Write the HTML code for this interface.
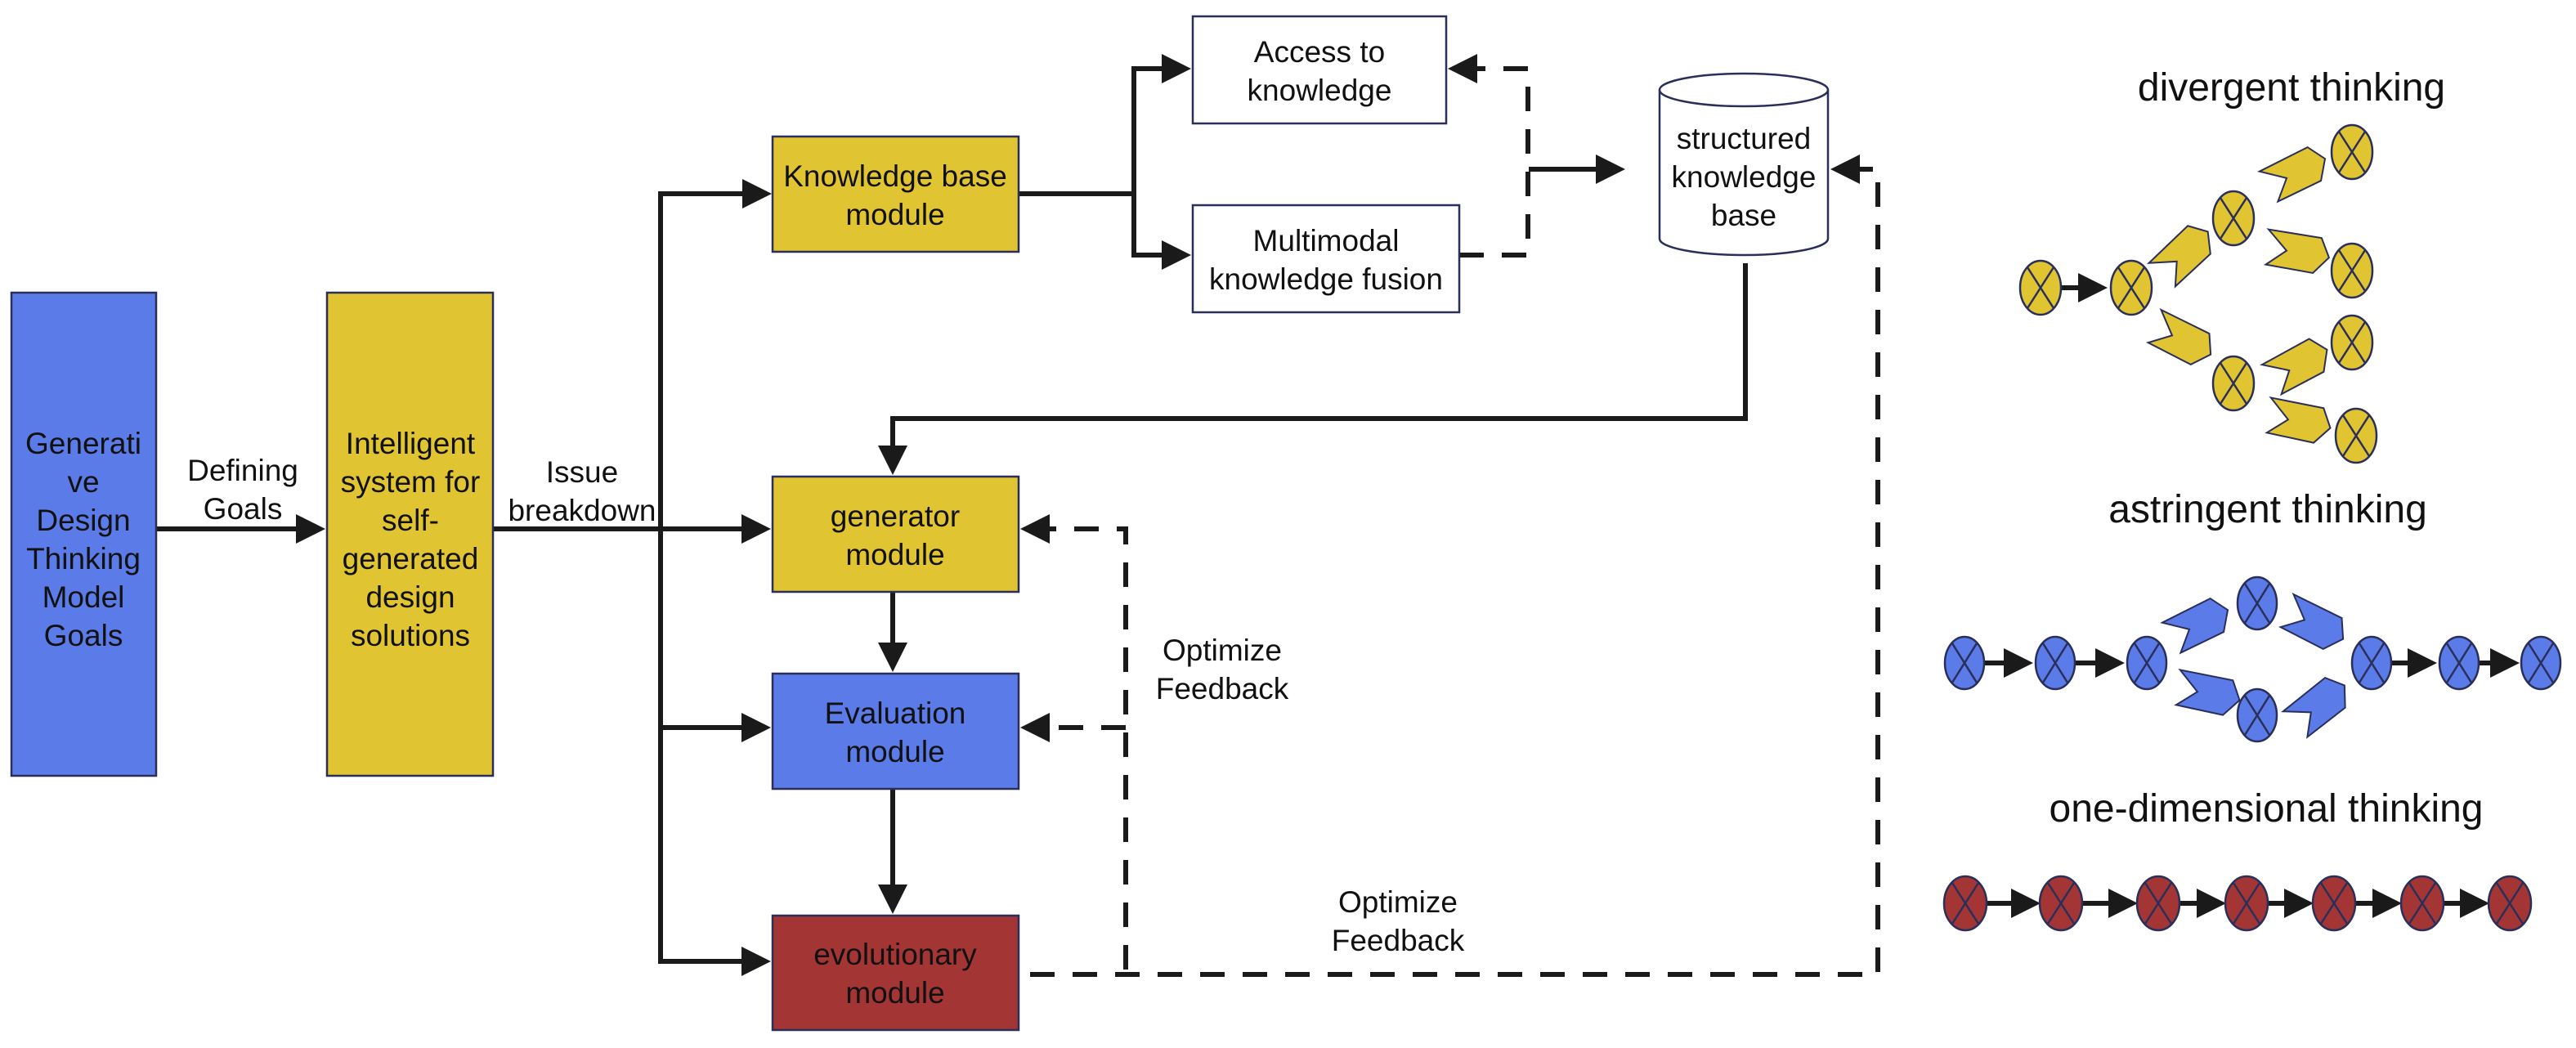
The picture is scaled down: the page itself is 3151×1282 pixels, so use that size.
<!DOCTYPE html>
<html><head><meta charset="utf-8"><style>
html,body{margin:0;padding:0;background:#fff;}
svg{display:block;}
text{font-family:"Liberation Sans",sans-serif;fill:#111;}
</style></head><body>
<svg width="3151" height="1282" viewBox="0 0 3151 1282" xmlns="http://www.w3.org/2000/svg">
<defs>
<marker id="a" markerWidth="6" markerHeight="6" refX="5" refY="3" orient="auto" markerUnits="strokeWidth"><path d="M0,0 L6,3 L0,6 z" fill="#1a1a1a"/></marker>
<g id="chy"><polygon points="-39,-13 26,-23 42,-3 29,21 -29,29 -10,5" fill="#e0c431" stroke="#2a2f5a" stroke-width="2"/></g>
<g id="chb"><polygon points="-39,-13 26,-23 42,-3 29,21 -29,29 -10,5" fill="#5b7be8" stroke="#2a2f5a" stroke-width="2"/></g>
</defs>
<g stroke="#1a1a1a" stroke-width="6" fill="none">
<line x1="191" y1="647" x2="392" y2="647" marker-end="url(#a)"/>
<line x1="603" y1="647" x2="937" y2="647" marker-end="url(#a)"/>
<polyline points="937,237 808,237 808,1176 937,1176" marker-end="url(#a)"/>
<line x1="808" y1="890" x2="937" y2="890" marker-end="url(#a)"/>
<line x1="937" y1="237" x2="938" y2="237" marker-end="url(#a)"/>
<polyline points="1246,237 1387,237 1387,84 1451,84" marker-end="url(#a)"/>
<polyline points="1387,237 1387,312 1451,312" marker-end="url(#a)"/>
<line x1="1870" y1="207" x2="1982" y2="207" marker-end="url(#a)"/>
<polyline points="2135,322 2135,512 1092,512 1092,575" marker-end="url(#a)"/>
<line x1="1092" y1="724" x2="1092" y2="816" marker-end="url(#a)"/>
<line x1="1092" y1="965" x2="1092" y2="1112" marker-end="url(#a)"/>
</g>
<g stroke="#1a1a1a" stroke-width="6" fill="none" stroke-dasharray="30,22">
<polyline points="1785,312 1869,312 1869,84 1777,84" marker-end="url(#a)"/>
<polyline points="1377,1186 1377,647 1254,647" marker-end="url(#a)"/>
<line x1="1377" y1="890" x2="1254" y2="890" marker-end="url(#a)"/>
<polyline points="1260,1192 2297,1192 2297,207 2245,207" marker-end="url(#a)"/>
</g>
<g stroke="#2a2f5a" stroke-width="2.5">
<rect x="14" y="358" width="177" height="591" fill="#5b7be8"/>
<rect x="400" y="358" width="203" height="591" fill="#e0c431"/>
<rect x="945" y="167" width="301" height="141" fill="#e0c431"/>
<rect x="945" y="583" width="301" height="141" fill="#e0c431"/>
<rect x="945" y="824" width="301" height="141" fill="#5b7be8"/>
<rect x="945" y="1120" width="301" height="140" fill="#a33535"/>
<rect x="1459" y="20" width="310" height="131" fill="#fff"/>
<rect x="1459" y="251" width="326" height="131" fill="#fff"/>
<path d="M2030,110 L2030,292 A103,20 0 0 0 2236,292 L2236,110" fill="#fff"/>
<ellipse cx="2133" cy="110" rx="103" ry="20" fill="#fff"/>
</g>
<g font-size="37" text-anchor="middle">
<text x="102" y="555">Generati</text><text x="102" y="602">ve</text><text x="102" y="649">Design</text><text x="102" y="696">Thinking</text><text x="102" y="743">Model</text><text x="102" y="790">Goals</text>
<text x="502" y="555">Intelligent</text><text x="502" y="602">system for</text><text x="502" y="649">self-</text><text x="502" y="696">generated</text><text x="502" y="743">design</text><text x="502" y="790">solutions</text>
<text x="297" y="588">Defining</text><text x="297" y="635">Goals</text>
<text x="712" y="590">Issue</text><text x="712" y="637">breakdown</text>
<text x="1095" y="228">Knowledge base</text><text x="1095" y="275">module</text>
<text x="1095" y="644">generator</text><text x="1095" y="691">module</text>
<text x="1095" y="885">Evaluation</text><text x="1095" y="932">module</text>
<text x="1095" y="1180">evolutionary</text><text x="1095" y="1227">module</text>
<text x="1614" y="76">Access to</text><text x="1614" y="123">knowledge</text>
<text x="1622" y="307">Multimodal</text><text x="1622" y="354">knowledge fusion</text>
<text x="2133" y="182">structured</text><text x="2133" y="229">knowledge</text><text x="2133" y="276">base</text>
<text x="1495" y="808">Optimize</text><text x="1495" y="855">Feedback</text>
<text x="1710" y="1116">Optimize</text><text x="1710" y="1163">Feedback</text>
</g>
<g font-size="48" text-anchor="middle">
<text x="2803" y="123">divergent thinking</text>
<text x="2774" y="639">astringent thinking</text>
<text x="2772" y="1005">one-dimensional thinking</text>
</g>
<g stroke="#1a1a1a" stroke-width="6"><line x1="2521" y1="352" x2="2572" y2="352" marker-end="url(#a)"/></g>
<g stroke="#2a2f5a" stroke-width="2.5" fill="#e0c431">
<g transform="translate(2496,352)"><ellipse rx="25" ry="33"/><path d="M-16,-25 L16,25 M16,-25 L-16,25" fill="none"/></g>
<g transform="translate(2607,352)"><ellipse rx="25" ry="33"/><path d="M-16,-25 L16,25 M16,-25 L-16,25" fill="none"/></g>
<g transform="translate(2732,267)"><ellipse rx="25" ry="33"/><path d="M-16,-25 L16,25 M16,-25 L-16,25" fill="none"/></g>
<g transform="translate(2732,469)"><ellipse rx="25" ry="33"/><path d="M-16,-25 L16,25 M16,-25 L-16,25" fill="none"/></g>
<g transform="translate(2877,186)"><ellipse rx="25" ry="33"/><path d="M-16,-25 L16,25 M16,-25 L-16,25" fill="none"/></g>
<g transform="translate(2877,331)"><ellipse rx="25" ry="33"/><path d="M-16,-25 L16,25 M16,-25 L-16,25" fill="none"/></g>
<g transform="translate(2877,419)"><ellipse rx="25" ry="33"/><path d="M-16,-25 L16,25 M16,-25 L-16,25" fill="none"/></g>
<g transform="translate(2882,533)"><ellipse rx="25" ry="33"/><path d="M-16,-25 L16,25 M16,-25 L-16,25" fill="none"/></g>
</g>
<use href="#chy" transform="translate(2668,310) rotate(-35)"/>
<use href="#chy" transform="translate(2668,412) rotate(35)"/>
<use href="#chy" transform="translate(2805,210) rotate(-18)"/>
<use href="#chy" transform="translate(2808,305) rotate(18)"/>
<use href="#chy" transform="translate(2808,445) rotate(-20)"/>
<use href="#chy" transform="translate(2810,512) rotate(20)"/>
<g stroke="#1a1a1a" stroke-width="6">
<line x1="2427" y1="811" x2="2481" y2="811" marker-end="url(#a)"/>
<line x1="2538" y1="811" x2="2593" y2="811" marker-end="url(#a)"/>
<line x1="2925" y1="811" x2="2975" y2="811" marker-end="url(#a)"/>
<line x1="3032" y1="811" x2="3076" y2="811" marker-end="url(#a)"/>
</g>
<g stroke="#2a2f5a" stroke-width="2.5" fill="#5b7be8">
<g transform="translate(2403,811)"><ellipse rx="24" ry="32"/><path d="M-15,-24 L15,24 M15,-24 L-15,24" fill="none"/></g>
<g transform="translate(2514,811)"><ellipse rx="24" ry="32"/><path d="M-15,-24 L15,24 M15,-24 L-15,24" fill="none"/></g>
<g transform="translate(2626,811)"><ellipse rx="24" ry="32"/><path d="M-15,-24 L15,24 M15,-24 L-15,24" fill="none"/></g>
<g transform="translate(2761,738)"><ellipse rx="24" ry="32"/><path d="M-15,-24 L15,24 M15,-24 L-15,24" fill="none"/></g>
<g transform="translate(2761,875)"><ellipse rx="24" ry="32"/><path d="M-15,-24 L15,24 M15,-24 L-15,24" fill="none"/></g>
<g transform="translate(2901,811)"><ellipse rx="24" ry="32"/><path d="M-15,-24 L15,24 M15,-24 L-15,24" fill="none"/></g>
<g transform="translate(3008,811)"><ellipse rx="24" ry="32"/><path d="M-15,-24 L15,24 M15,-24 L-15,24" fill="none"/></g>
<g transform="translate(3108,811)"><ellipse rx="24" ry="32"/><path d="M-15,-24 L15,24 M15,-24 L-15,24" fill="none"/></g>
</g>
<use href="#chb" transform="translate(2686,762) rotate(-18)"/>
<use href="#chb" transform="translate(2699,845) rotate(20)"/>
<use href="#chb" transform="translate(2830,760) rotate(35)"/>
<use href="#chb" transform="translate(2833,862) rotate(-30)"/>
<g stroke="#1a1a1a" stroke-width="6">
<line x1="2430" y1="1105" x2="2490" y2="1105" marker-end="url(#a)"/>
<line x1="2547" y1="1105" x2="2609" y2="1105" marker-end="url(#a)"/>
<line x1="2666" y1="1105" x2="2717" y2="1105" marker-end="url(#a)"/>
<line x1="2774" y1="1105" x2="2824" y2="1105" marker-end="url(#a)"/>
<line x1="2881" y1="1105" x2="2932" y2="1105" marker-end="url(#a)"/>
<line x1="2989" y1="1105" x2="3039" y2="1105" marker-end="url(#a)"/>
</g>
<g stroke="#2a2f5a" stroke-width="2.5" fill="#a33535">
<g transform="translate(2404,1105)"><ellipse rx="26" ry="33"/><path d="M-16,-25 L16,25 M16,-25 L-16,25" fill="none"/></g>
<g transform="translate(2521,1105)"><ellipse rx="26" ry="33"/><path d="M-16,-25 L16,25 M16,-25 L-16,25" fill="none"/></g>
<g transform="translate(2640,1105)"><ellipse rx="26" ry="33"/><path d="M-16,-25 L16,25 M16,-25 L-16,25" fill="none"/></g>
<g transform="translate(2748,1105)"><ellipse rx="26" ry="33"/><path d="M-16,-25 L16,25 M16,-25 L-16,25" fill="none"/></g>
<g transform="translate(2855,1105)"><ellipse rx="26" ry="33"/><path d="M-16,-25 L16,25 M16,-25 L-16,25" fill="none"/></g>
<g transform="translate(2963,1105)"><ellipse rx="26" ry="33"/><path d="M-16,-25 L16,25 M16,-25 L-16,25" fill="none"/></g>
<g transform="translate(3070,1105)"><ellipse rx="26" ry="33"/><path d="M-16,-25 L16,25 M16,-25 L-16,25" fill="none"/></g>
</g>
</svg>
</body></html>
